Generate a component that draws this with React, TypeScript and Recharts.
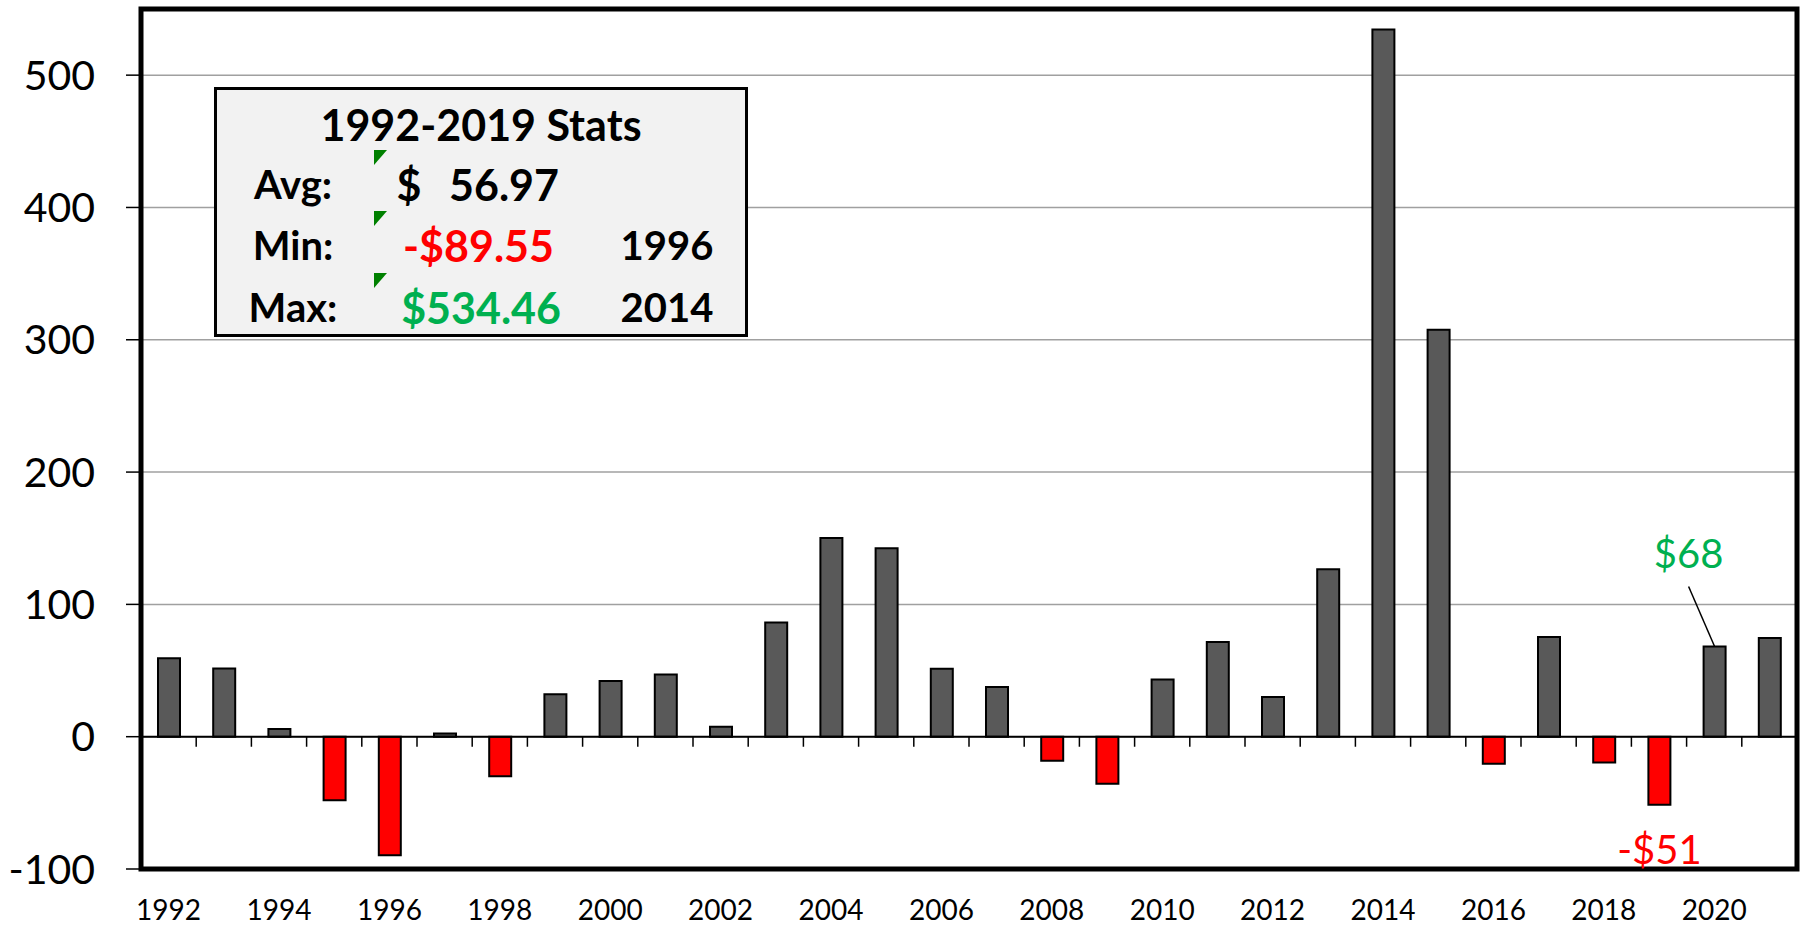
import React from "react";
import {
  BarChart,
  Bar,
  XAxis,
  YAxis,
  CartesianGrid,
  ReferenceLine,
  ReferenceArea,
  Cell,
  LabelList
} from "recharts";

// yearly change
const years = [
  "1992", "1993", "1994", "1995", "1996", "1997", "1998", "1999", "2000", "2001",
  "2002", "2003", "2004", "2005", "2006", "2007", "2008", "2009", "2010", "2011",
  "2012", "2013", "2014", "2015", "2016", "2017", "2018", "2019", "2020", "2021"
];
const values = [
  59.2, 51.6, 5.8, -48, -89.55, 2.5, -29.9, 32, 42, 47,
  7.5, 86.3, 150.2, 142.5, 51.3, 37.5, -18.1, -35.5, 43.3, 71.5,
  30, 126.6, 534.46, 307.6, -20.4, 75.3, -19.6, -51.4, 68.2, 74.5
];
const yTicks = [-100, 0, 100, 200, 300, 400, 500];
const callouts = ["2019", "2020"];

const statsTitle = "1992-2019 Stats";
const statLabels = ["Avg:", "Min:", "Max:"];
const statValues = ["56.97", "-$89.55", "$534.46"];
const statYears = ["", "1996", "2014"];

const GRAY = "#595959";
const RED = "#FF0000";
const GREEN = "#00B050";
const FONT = "Lato, 'Open Sans', sans-serif";

const fmt = (v: number) =>
  v < 0 ? `-$${Math.abs(Math.round(v))}` : `$${Math.round(v)}`;

const data = years.map((year, i) => ({
  year,
  value: values[i],
  label: callouts.includes(year) ? fmt(values[i]) : undefined
}));

function Callout(props: any) {
  const { x, y, width, height, value } = props;
  if (!value) return null;
  const cx = Number(x) + Number(width) / 2;
  const top = Math.min(Number(y), Number(y) + Number(height));
  const bottom = Math.max(Number(y), Number(y) + Number(height));
  if (String(value).startsWith("-")) {
    return (
      <text
        x={cx}
        y={bottom + 44}
        textAnchor="middle"
        dominantBaseline="central"
        fill={RED}
        fontFamily={FONT}
        fontSize={40}
      >
        {value}
      </text>
    );
  }
  return (
    <g>
      <line x1={cx} y1={top} x2={cx - 26} y2={top - 60} stroke="#000" strokeWidth={1.5} />
      <text
        x={cx - 26}
        y={top - 93}
        textAnchor="middle"
        dominantBaseline="central"
        fill={GREEN}
        fontFamily={FONT}
        fontSize={40}
      >
        {value}
      </text>
    </g>
  );
}

const abs = (left: number, top: number, extra: React.CSSProperties = {}): React.CSSProperties => ({
  position: "absolute",
  left,
  top,
  transform: "translate(-50%, -50%)",
  whiteSpace: "nowrap",
  lineHeight: 1,
  ...extra
});

function StatsBox() {
  const rowY = [94, 155, 217];
  const valueColors = ["#000", RED, GREEN];
  const valueRight = [186, 191, 184];
  return (
    <div
      style={{
        position: "absolute",
        left: 214,
        top: 87,
        width: 534,
        height: 250,
        boxSizing: "border-box",
        border: "3px solid #000",
        background: "#F2F2F2",
        fontFamily: FONT,
        fontWeight: 700,
        fontSize: 40,
        color: "#000"
      }}
    >
      <span style={abs(264, 34, { fontSize: 43 })}>{statsTitle}</span>
      {statLabels.map((lab, i) => (
        <React.Fragment key={lab}>
          <span style={abs(76, rowY[i])}>{lab}</span>
          <div
            style={{
              position: "absolute",
              left: 157,
              top: rowY[i] - 34,
              width: 0,
              height: 0,
              borderTop: "15px solid #008000",
              borderRight: "13px solid transparent"
            }}
          />
          {i === 0 && <span style={abs(192, rowY[i], { fontSize: 43 })}>$</span>}
          <span
            style={{
              position: "absolute",
              right: valueRight[i],
              top: rowY[i],
              transform: "translateY(-50%)",
              lineHeight: 1,
              whiteSpace: "nowrap",
              fontSize: 43,
              color: valueColors[i]
            }}
          >
            {statValues[i]}
          </span>
          {statYears[i] && <span style={abs(450, rowY[i])}>{statYears[i]}</span>}
        </React.Fragment>
      ))}
    </div>
  );
}

export default function App() {
  return (
    <div style={{ position: "absolute", left: 0, top: 0, width: 1805, height: 926, background: "#fff" }}>
      <BarChart
        width={1805}
        height={926}
        data={data}
        margin={{ top: 9, right: 8, left: 0, bottom: 0 }}
        barSize={22}
      >
        <CartesianGrid vertical={false} stroke="#A0A0A0" strokeWidth={1.5} />
        <XAxis
          dataKey="year"
          interval={1}
          height={57}
          axisLine={false}
          tickLine={false}
          tickSize={0}
          tickMargin={31}
          tick={{ fill: "#000", fontSize: 28, fontFamily: FONT }}
        />
        <YAxis
          width={141}
          domain={[-100, 550]}
          ticks={yTicks}
          allowDataOverflow
          axisLine={false}
          tickLine={{ stroke: "#000", strokeWidth: 1.5 }}
          tickSize={15}
          tickMargin={31}
          tick={{ fill: "#000", fontSize: 41, fontFamily: FONT }}
        />
        <Bar dataKey="value" stroke="#000" strokeWidth={2} isAnimationActive={false}>
          {data.map((d) => (
            <Cell key={d.year} fill={d.value < 0 ? RED : GRAY} />
          ))}
          <LabelList dataKey="label" content={Callout} />
        </Bar>
        <ReferenceLine y={0} stroke="#000" strokeWidth={2} />
        {years.slice(1).map((y) => (
          <ReferenceLine
            key={y}
            position="start"
            segment={[
              { x: y, y: 0 },
              { x: y, y: -7.6 }
            ]}
            stroke="#000"
            strokeWidth={1.5}
          />
        ))}
        <ReferenceArea y1={-100} y2={550} fill="none" stroke="#000" strokeWidth={5} />
      </BarChart>
      <StatsBox />
    </div>
  );
}
